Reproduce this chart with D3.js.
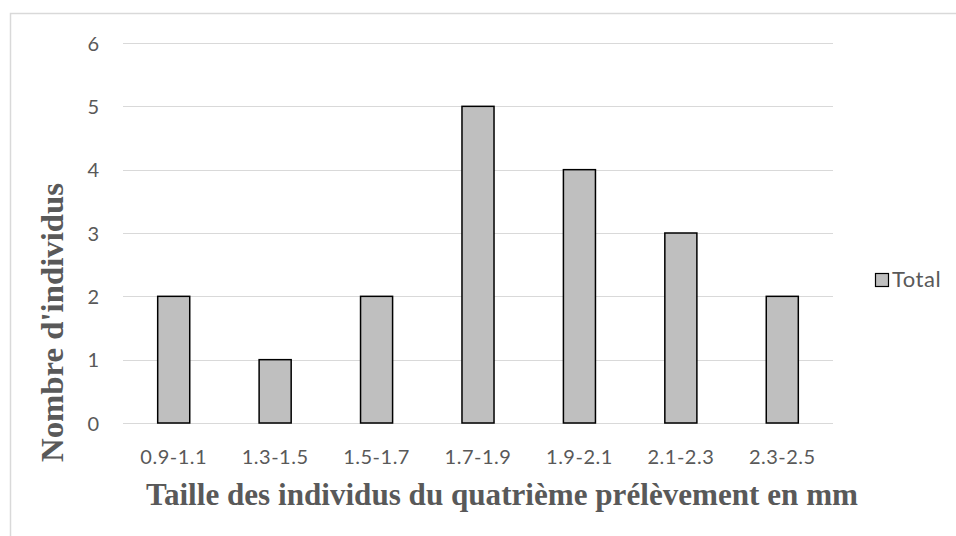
<!DOCTYPE html>
<html>
<head>
<meta charset="utf-8">
<script src="https://cdn.jsdelivr.net/npm/d3@7"></script>
<style>
  html, body { margin: 0; padding: 0; background: #fff; }
  svg { display: block; }
</style>
</head>
<body>
<svg id="chart" width="956" height="536"></svg>
<script>
// Size classes (mm) and number of individuals in each
const categories = ["0.9-1.1", "1.3-1.5", "1.5-1.7", "1.7-1.9", "1.9-2.1", "2.1-2.3", "2.3-2.5"];
const totals = [2, 1, 2, 5, 4, 3, 2];
const yTicks = [0, 1, 2, 3, 4, 5, 6];
const seriesName = "Total";
const xTitle = "Taille des individus du quatrième prélèvement en mm";
const yTitle = "Nombre d'individus";

const svg = d3.select("#chart");
const plot = { left: 123, right: 833, top: 43, bottom: 423 };
const labelFont = "Lato, 'Open Sans', sans-serif";
const titleFont = "'Liberation Serif', 'Times New Roman', serif";

// Chart frame
svg.append("rect")
  .attr("x", 10.5).attr("y", 13.5)
  .attr("width", 960).attr("height", 540)
  .attr("fill", "#fff")
  .attr("stroke", "#d9d9d9").attr("stroke-width", 1.5);

const x = d3.scaleBand()
  .domain(categories)
  .range([plot.left, plot.right])
  .paddingInner(0.684)
  .paddingOuter(0.342);

const y = d3.scaleLinear()
  .domain([0, 6])
  .range([plot.bottom, plot.top]);

// Horizontal gridlines
svg.append("g")
  .selectAll("line")
  .data(yTicks)
  .join("line")
  .attr("x1", plot.left).attr("x2", plot.right)
  .attr("y1", d => Math.round(y(d)) + 0.5)
  .attr("y2", d => Math.round(y(d)) + 0.5)
  .attr("stroke", "#d9d9d9").attr("stroke-width", 1);

// Y axis labels
const yAxis = d3.axisLeft(y).tickValues(yTicks).tickFormat(d3.format("d")).tickSize(0).tickPadding(0);
const gy = svg.append("g").attr("transform", "translate(99,0)").call(yAxis);
gy.select(".domain").remove();
gy.selectAll("text")
  .attr("fill", "#595959")
  .style("font-family", labelFont)
  .style("font-size", "20px")
  .attr("dy", "0.36em");

// X axis labels
const xAxis = d3.axisBottom(x).tickSize(0).tickPadding(0);
const gx = svg.append("g").attr("transform", "translate(0,450)").call(xAxis);
gx.select(".domain").remove();
gx.selectAll("text")
  .attr("fill", "#595959")
  .style("font-family", labelFont)
  .style("font-size", "20px")
  .style("letter-spacing", "0.5px")
  .attr("dy", "0.71em");

// Bars
svg.append("g")
  .selectAll("rect")
  .data(categories.map((c, i) => ({ c, v: totals[i] })))
  .join("rect")
  .attr("x", d => x(d.c))
  .attr("y", d => y(d.v))
  .attr("width", x.bandwidth())
  .attr("height", d => y(0) - y(d.v))
  .attr("fill", "#bfbfbf")
  .attr("stroke", "#000")
  .attr("stroke-width", 1.5);

// Axis titles
svg.append("text")
  .attr("x", 146).attr("y", 505)
  .attr("textLength", 712).attr("lengthAdjust", "spacingAndGlyphs")
  .attr("fill", "#595959")
  .style("font-family", titleFont)
  .style("font-weight", "bold")
  .style("font-size", "32px")
  .text(xTitle);

svg.append("text")
  .attr("transform", "translate(63,462) rotate(-90)")
  .attr("textLength", 279).attr("lengthAdjust", "spacingAndGlyphs")
  .attr("fill", "#595959")
  .style("font-family", titleFont)
  .style("font-weight", "bold")
  .style("font-size", "32px")
  .text(yTitle);

// Legend
const legend = svg.append("g").attr("transform", "translate(875,273)");
legend.append("rect")
  .attr("x", 0.5).attr("y", 0.5)
  .attr("width", 13).attr("height", 13)
  .attr("fill", "#bfbfbf").attr("stroke", "#000").attr("stroke-width", 1.2);
legend.append("text")
  .attr("x", 17).attr("y", 14)
  .attr("fill", "#595959")
  .style("font-family", labelFont)
  .style("font-size", "22px")
  .style("letter-spacing", "0.5px")
  .text(seriesName);
</script>
</body>
</html>
